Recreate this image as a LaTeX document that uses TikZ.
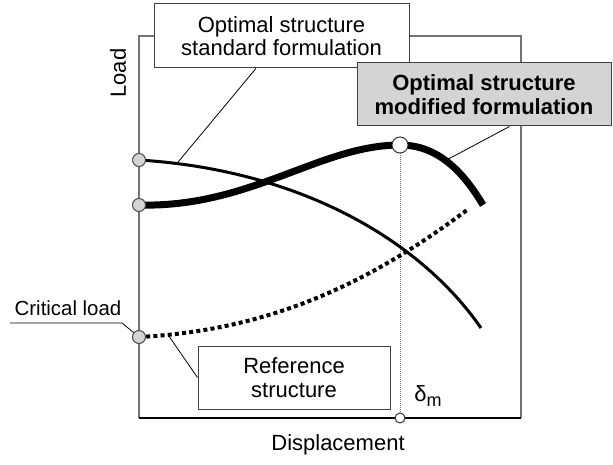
\documentclass[tikz,border=0pt]{standalone}
\usepackage{fontspec}
\setmainfont{Liberation Sans}
\usetikzlibrary{calc}

\definecolor{boxgray}{gray}{0.83}
\definecolor{framegray}{gray}{0.45}

\tikzset{
  frameline/.style={draw=framegray, line width=0.55pt},
  stdcurve/.style={line width=1.5pt},
  modcurve/.style={line width=3.5pt},
  refcurve/.style={line width=2pt, dash pattern=on 2pt off 1.6pt},
  leader/.style={line width=0.4pt},
  labelbox/.style={draw=black!75, fill=white, line width=0.5pt, align=center, inner sep=0pt},
  startdot/.style={circle, draw=black!70, fill=boxgray, line width=0.5pt, minimum size=6.5pt, inner sep=0pt},
  opendot/.style={circle, draw=black!80, fill=white, line width=0.5pt, inner sep=0pt}
}

\begin{document}
\begin{tikzpicture}[x=0.5pt,y=-0.5pt,
    every node/.style={font=\fontsize{11}{11.8}\selectfont}]
  \useasboundingbox (0,0) rectangle (613,464);

  % points on the axes
  \coordinate (s0) at (139,160);
  \coordinate (m0) at (139,205);
  \coordinate (r0) at (139,337);
  \coordinate (pk) at (400,145);
  \coordinate (dm) at (400,418);

  % frame
  \draw[frameline] (139,418) -- (139,36) -- (521,36) -- (521,418);
  \draw[line width=0.6pt] (139,418) -- (521,418);
  \draw[framegray, line width=0.4pt, dash pattern=on 0.5pt off 0.5pt] (pk) -- (dm);

  % curves
  \draw[stdcurve] (s0) .. controls (300,170) and (420,240) .. (481,328)
    coordinate[pos=0.08] (stdtip);
  \draw[modcurve] (m0) .. controls (250,208) and (320,145) .. (pk)
    .. controls (440,145) and (465,175) .. (483,205)
    coordinate[pos=0.45] (modtip);
  \draw[refcurve] (r0) .. controls (280,330) and (380,275) .. (467,210)
    coordinate[pos=0.07] (reftip);

  \begin{scope}[every node/.style={startdot}]
    \node (c1) at (s0) {};
    \node (c2) at (m0) {};
    \node (c3) at (r0) {};
  \end{scope}
  \node[opendot, minimum size=8pt] (top) at (pk) {};
  \node[opendot, minimum size=5pt] (bot) at (dm) {};

  % labels
  \node[labelbox, minimum width=127.5pt, minimum height=32pt] (std) at (281.5,36)
    {Optimal structure\\standard formulation};
  \node[labelbox, fill=boxgray, font=\fontsize{11}{11.8}\selectfont\bfseries,
    minimum width=127pt, minimum height=31.5pt] (mod) at (484,94.5)
    {Optimal structure\\modified formulation};
  \node[labelbox, minimum width=96pt, minimum height=31.5pt] (ref) at (294,377.5)
    {Reference\\structure};
  \node[anchor=south, inner ysep=3.5pt, font=\fontsize{10.2}{11}\selectfont] (crit) at (68,323) {Critical load};
  \node[rotate=90] (load) at (118,73) {Load};
  \node (disp) at (338,445) {Displacement};
  \node (delta) at (428,396) {δ\raisebox{-0.35ex}{\fontsize{9}{10}\selectfont m}};

  % leaders
  \draw[leader] ($(std.south west)!0.4!(std.south east)$) -- (stdtip);
  \draw[leader] ($(mod.south west)!0.6!(mod.south east)$) -- (modtip);
  \draw[leader] (ref.west) -- (reftip);
  \draw[leader] (10,323) -- (122,323) -- (c3);

\end{tikzpicture}
\end{document}
